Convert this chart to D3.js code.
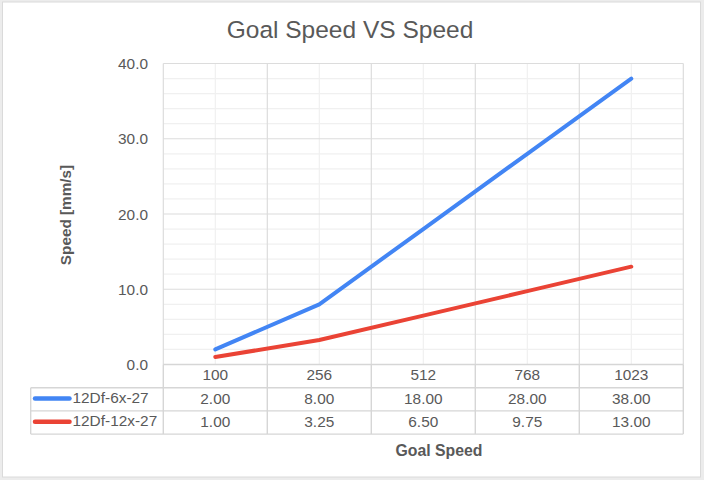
<!DOCTYPE html>
<html>
  <head>
    <meta charset="utf-8">
    <title>Goal Speed VS Speed</title>
    <script src="https://cdn.jsdelivr.net/npm/d3@7"></script>
    <style type="text/css">
    body { margin: 0; background: #ececec; }
    text { font-family: "Liberation Sans", Arial, sans-serif; fill: #595959; }
    </style>
  </head>
  <body>
  <script type="text/javascript">

    // chart data
    var categories = ["100", "256", "512", "768", "1023"];
    var seriesNames = ["12Df-6x-27", "12Df-12x-27"];
    var series6x = [2.00, 8.00, 18.00, 28.00, 38.00];
    var series12x = [1.00, 3.25, 6.50, 9.75, 13.00];
    var seriesColors = ["#4285f4", "#ea4335"];
    var yTicks = [0, 10, 20, 30, 40];
    var yMinorTicks = [2, 4, 6, 8, 12, 14, 16, 18, 22, 24, 26, 28, 32, 34, 36, 38];

    var W = 704, H = 480;
    var plot = {left: 163.3, right: 683.3, top: 63.5, bottom: 364.5};
    var tableLeft = 30.7, rowH = 23.2;

    var svg = d3.select("body").append("svg")
      .attr("width", W)
      .attr("height", H);

    // chart card
    svg.append("rect")
      .attr("x", 2.5).attr("y", 2)
      .attr("width", 698).attr("height", 475)
      .attr("fill", "#fff")
      .attr("stroke", "#dadada")
      .attr("stroke-width", 1);

    var x = d3.scaleBand().domain(categories).range([plot.left, plot.right]);
    var y = d3.scaleLinear().domain([0, 40]).range([plot.bottom, plot.top]);

    var grid = svg.append("g");

    // minor grid
    grid.selectAll(".ymin").data(yMinorTicks).enter().append("line")
      .attr("x1", plot.left).attr("x2", plot.right)
      .attr("y1", function(d){ return y(d); })
      .attr("y2", function(d){ return y(d); })
      .attr("stroke", "#f0f0f0").attr("stroke-width", 1.2);

    grid.selectAll(".xmin").data(categories).enter().append("line")
      .attr("x1", function(d){ return x(d) + x.bandwidth()/2; })
      .attr("x2", function(d){ return x(d) + x.bandwidth()/2; })
      .attr("y1", plot.top).attr("y2", plot.bottom)
      .attr("stroke", "#f0f0f0").attr("stroke-width", 1.2);

    // major grid
    grid.selectAll(".ymaj").data(yTicks).enter().append("line")
      .attr("x1", plot.left).attr("x2", plot.right)
      .attr("y1", function(d){ return y(d); })
      .attr("y2", function(d){ return y(d); })
      .attr("stroke", "#dcdcdc").attr("stroke-width", 1.2);

    var bounds = categories.map(function(c){ return x(c); }).concat([plot.right]);
    grid.selectAll(".xmaj").data(bounds).enter().append("line")
      .attr("x1", function(d){ return d; })
      .attr("x2", function(d){ return d; })
      .attr("y1", plot.top).attr("y2", plot.bottom)
      .attr("stroke", "#dcdcdc").attr("stroke-width", 1.2);

    // y tick labels
    svg.selectAll(".ylab").data(yTicks).enter().append("text")
      .attr("x", 148)
      .attr("y", function(d){ return y(d); })
      .attr("dy", "0.36em")
      .attr("text-anchor", "end")
      .style("font-size", "15.4px")
      .text(function(d){ return d3.format(".1f")(d); });

    // lines
    var line = d3.line()
      .x(function(d, i){ return x(categories[i]) + x.bandwidth()/2; })
      .y(function(d){ return y(d); });

    [series6x, series12x].forEach(function(s, i){
      svg.append("path")
        .datum(s)
        .attr("d", line)
        .attr("fill", "none")
        .attr("stroke", seriesColors[i])
        .attr("stroke-width", 4)
        .attr("stroke-linejoin", "round")
        .attr("stroke-linecap", "round");
    });

    // data table
    var table = svg.append("g");
    var tb = plot.bottom;
    var tableLine = function(x1, y1, x2, y2){
      table.append("line")
        .attr("x1", x1).attr("y1", y1).attr("x2", x2).attr("y2", y2)
        .attr("stroke", "#d6d6d6").attr("stroke-width", 1.4);
    };
    tableLine(plot.left, tb, plot.right, tb);
    tableLine(tableLeft, tb + rowH, plot.right, tb + rowH);
    tableLine(tableLeft, tb + rowH*2, plot.right, tb + rowH*2);
    tableLine(tableLeft, tb + rowH*3, plot.right, tb + rowH*3);
    tableLine(tableLeft, tb + rowH, tableLeft, tb + rowH*3);
    bounds.forEach(function(b){ tableLine(b, tb, b, tb + rowH*3); });

    table.selectAll(".cat").data(categories).enter().append("text")
      .attr("x", function(d){ return x(d) + x.bandwidth()/2; })
      .attr("y", tb + 15.5)
      .attr("text-anchor", "middle")
      .style("font-size", "15.4px")
      .text(function(d){ return d; });

    [series6x, series12x].forEach(function(s, i){
      var ry = tb + rowH*(i+1);
      table.append("line")
        .attr("x1", 35).attr("x2", 69.5)
        .attr("y1", ry + 10.8).attr("y2", ry + 10.8)
        .attr("stroke", seriesColors[i])
        .attr("stroke-width", 4.5)
        .attr("stroke-linecap", "round");
      table.append("text")
        .attr("x", 72.5).attr("y", ry + 15.2)
        .style("font-size", "15.4px")
        .text(seriesNames[i]);
      table.selectAll(".v" + i).data(s).enter().append("text")
        .attr("x", function(d, j){ return x(categories[j]) + x.bandwidth()/2; })
        .attr("y", ry + 16)
        .attr("text-anchor", "middle")
        .style("font-size", "15.4px")
        .text(function(d){ return d3.format(".2f")(d); });
    });

    // titles
    svg.append("text")
      .attr("x", 350).attr("y", 38)
      .attr("text-anchor", "middle")
      .style("font-size", "24.5px")
      .text("Goal Speed VS Speed");

    svg.append("text")
      .attr("transform", "translate(70.5,215) rotate(-90)")
      .attr("text-anchor", "middle")
      .style("font-size", "15.3px")
      .style("font-weight", "bold")
      .text("Speed [mm/s]");

    svg.append("text")
      .attr("x", 439).attr("y", 456)
      .attr("text-anchor", "middle")
      .style("font-size", "15.8px")
      .style("font-weight", "bold")
      .text("Goal Speed");

  </script>
  </body>
</html>
